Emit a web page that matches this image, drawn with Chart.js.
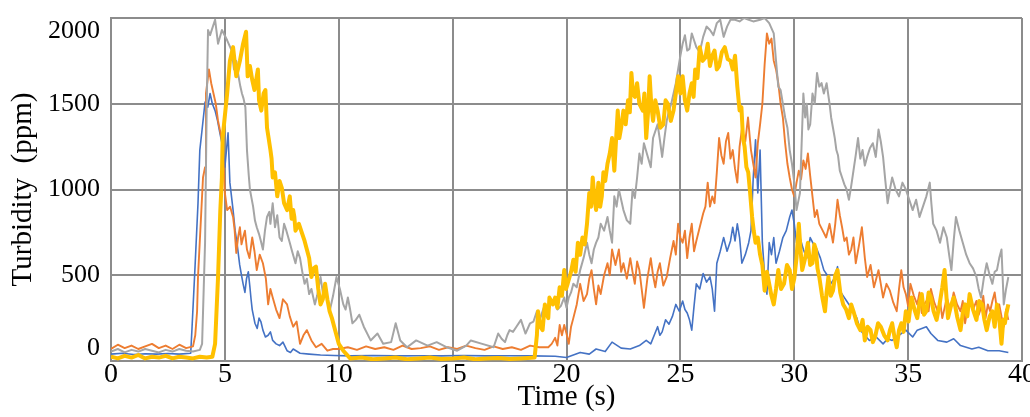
<!DOCTYPE html>
<html lang="en">
<head>
  <meta charset="UTF-8" />
  <title>Turbidity</title>
  <script src="https://cdn.jsdelivr.net/npm/chart.js"></script>
  <style>
    body { margin: 0; background: #fff; }
  </style>
</head>
<body>
<canvas id="turbChart" width="1030" height="417"></canvas>

<script>
  // time (s) and turbidity (ppm), one pair of arrays per run
  const blueT = [0, 0.5, 1, 1.5, 2, 2.5, 3, 3.5,
    3.56, 3.69, 3.82, 3.9, 4.0, 4.13, 4.25, 4.35, 4.45, 4.57, 4.68, 4.78, 4.9,
    5.0, 5.14, 5.22, 5.36, 5.45, 5.53, 5.65, 5.73, 5.8, 5.88,
    5.95, 6.03, 6.1, 6.15, 6.2, 6.26, 6.32, 6.42, 6.5, 6.58,
    6.67, 6.78, 6.9, 7.0, 7.1, 7.25, 7.4, 7.55, 7.73, 7.88, 8.0,
    8.3, 8.7, 9.2, 9.8,
    10.5, 11.5, 12.5, 13.5, 14.5, 15.5, 16.5, 17.5, 18.5, 19.5,
    20.0, 20.3, 20.6, 21.0, 21.3, 21.7, 22.0, 22.4, 22.8, 23.2,
    23.5, 23.7, 24.0, 24.1, 24.2, 24.35, 24.5, 24.65, 24.8, 24.95,
    25.1, 25.2, 25.3, 25.4, 25.5, 25.6, 25.7, 25.85, 26.0, 26.15,
    26.3, 26.4, 26.5, 26.6, 26.75, 26.9, 27.05, 27.2, 27.3, 27.4,
    27.5, 27.6, 27.7, 27.85, 28.0, 28.1, 28.2, 28.3, 28.4, 28.5,
    28.6, 28.7, 28.8, 28.9, 29.0, 29.1, 29.2, 29.35, 29.5, 29.65,
    29.8, 29.9, 30.0, 30.1, 30.25, 30.4, 30.55, 30.7, 30.85, 31.0,
    31.15, 31.3, 31.45, 31.6, 31.75, 31.9, 32.0, 32.15, 32.3, 32.45,
    32.6, 32.75, 32.9, 33.1, 33.3, 33.6, 33.9, 34.1, 34.3, 34.6,
    34.9, 35.2, 35.4, 35.8, 36.0, 36.3, 36.7, 37.0, 37.3, 37.8,
    38.1, 38.5, 39.0, 39.4];
  const blueV = [40, 45, 38, 42, 40, 44, 40, 45,
    200, 550, 920, 1230, 1350, 1510, 1480, 1560, 1500, 1460, 1400, 1330, 1250,
    1130, 1330, 1040, 880, 760, 690, 560, 500, 450, 400,
    480, 520, 430, 360, 300, 260, 220, 190, 250, 230,
    180, 140, 150, 170, 120, 100, 90, 110, 60, 50, 70,
    45, 40, 35, 32,
    30, 32, 30, 31, 30, 32, 30, 31, 30, 28,
    20, 35, 50, 40, 70, 55, 110, 75, 70, 90,
    120, 100, 200, 150, 170, 240, 215, 260, 330, 290,
    350, 300, 280, 240, 180, 320, 450, 420, 510, 460,
    490, 420, 290, 570, 640, 720, 640, 700, 780, 700,
    800, 720, 570, 620, 690, 760, 1070, 1290, 980, 1230,
    690, 500, 390, 690, 620, 720, 570, 640, 720, 760,
    840, 880, 800, 690, 720, 650, 600, 720, 680, 650,
    600, 530, 500, 450, 480, 550, 410, 380, 350, 320,
    290, 250, 180, 150, 120, 140, 100, 130, 120, 150,
    180, 140, 180, 200, 160, 120, 110, 130, 90, 70,
    80, 60, 60, 50];

  const orangeT = [0, 0.3, 0.6, 0.9, 1.2, 1.5, 1.8, 2.1, 2.4, 2.7, 3.0, 3.3, 3.6,
    3.7, 3.78, 3.82, 4.04, 4.13, 4.17, 4.3, 4.4, 4.6, 4.7, 4.9,
    5.0, 5.1, 5.23, 5.36, 5.43, 5.5, 5.58, 5.66, 5.73, 5.8,
    5.88, 5.97, 6.08, 6.2, 6.3, 6.4, 6.53, 6.67, 6.8, 6.9,
    7.0, 7.1, 7.25, 7.4, 7.55, 7.73, 7.85, 8.0, 8.15, 8.3,
    8.45, 8.6, 8.8, 9.0, 9.25, 9.5, 9.75, 10.0, 10.4,
    10.8, 11.2, 11.6, 12.0, 12.4, 12.8, 13.2, 13.6, 14.0, 14.4, 14.8, 15.2, 15.6, 16.0, 16.4, 16.8, 17.2, 17.6, 18.0, 18.4, 18.8,
    19.2, 19.35, 19.5, 19.6, 19.7, 19.8, 19.9, 20.0, 20.1, 20.2,
    20.3, 20.45, 20.6, 20.75, 20.9, 21.0, 21.1, 21.2, 21.3, 21.4,
    21.5, 21.65, 21.8, 21.9, 22.0, 22.15, 22.3, 22.4, 22.5, 22.65,
    22.8, 22.9, 23.0, 23.1, 23.2, 23.3, 23.4, 23.55, 23.7, 23.8,
    23.9, 24.0, 24.1, 24.25, 24.4, 24.55, 24.7, 24.8, 24.9, 25.0,
    25.1, 25.2, 25.3, 25.4, 25.5, 25.6, 25.7, 25.85, 26.0, 26.1,
    26.2, 26.3, 26.4, 26.5, 26.6, 26.7, 26.8, 26.9, 27.0, 27.1,
    27.2, 27.3, 27.4, 27.5, 27.6, 27.7, 27.85, 27.97, 28.05, 28.1,
    28.2, 28.3, 28.4, 28.5, 28.6, 28.7, 28.8, 28.9, 29.0, 29.1,
    29.2, 29.3, 29.4, 29.5, 29.6, 29.7, 29.8, 29.9, 30.0, 30.1,
    30.2, 30.3, 30.4, 30.5, 30.6, 30.7, 30.8, 30.9, 31.0, 31.1,
    31.25, 31.4, 31.55, 31.7, 31.8, 31.9, 32.0, 32.1, 32.2, 32.3,
    32.4, 32.5, 32.6, 32.7, 32.85, 32.97, 33.1, 33.2, 33.35, 33.5,
    33.6, 33.7, 33.8, 33.9, 34.05, 34.2, 34.35, 34.5, 34.6, 34.7,
    34.8, 34.9, 35.0, 35.1, 35.25, 35.4, 35.5, 35.6, 35.7, 35.8,
    35.9, 36.0, 36.15, 36.3, 36.4, 36.5, 36.6, 36.7, 36.85, 37.0,
    37.15, 37.3, 37.4, 37.5, 37.6, 37.7, 37.85, 38.0, 38.1, 38.2,
    38.3, 38.4, 38.5, 38.6, 38.7, 38.8, 38.9, 39.0, 39.1, 39.2,
    39.3, 39.4];
  const orangeV = [70, 95, 75, 90, 70, 85, 100, 75, 90, 70, 95, 75, 85,
    150, 290, 490, 1070, 1130, 1560, 1700, 1620, 1500, 1400, 1270,
    980, 880, 900, 840, 760, 630, 720, 780, 680, 720,
    760, 650, 600, 720, 640, 530, 620, 570, 480, 330,
    420, 370, 300, 250, 360, 330, 260, 200, 230, 100,
    150, 180, 120, 80, 100, 60, 70, 70, 80,
    65, 85, 70, 80, 65, 90, 70, 75, 85, 65, 80, 70, 90, 75, 65, 85, 70, 80, 65, 90, 80,
    80, 100, 135, 90, 210, 150, 210, 160, 100, 200,
    250, 330, 450, 350, 390, 480, 530, 420, 330, 440,
    390, 500, 570, 500, 650, 560, 650, 520, 570, 480,
    600, 520, 450, 580, 530, 420, 310, 480, 600, 500,
    430, 520, 570, 440, 490, 600, 700, 620, 800, 720,
    690, 760, 600, 720, 800, 640, 700, 780, 860, 900,
    1040, 900, 960, 920, 1100, 1300, 1200, 1150, 1280, 1330,
    1180, 1230, 1120, 1040, 1250, 1350, 1280, 1420, 1300, 1230,
    1150, 1070, 1270, 1380, 1500, 1730, 1910, 1850, 1880, 1750,
    1700, 1620, 1500, 1420, 1270, 1150, 1070, 1000, 960, 1040,
    1110, 1060, 1170, 1120, 1210, 1080, 960, 840, 880, 800,
    760, 720, 800, 690, 800, 940, 850, 780, 700, 720,
    620, 650, 720, 570, 680, 780, 600, 490, 560, 430,
    480, 530, 450, 370, 450, 410, 340, 290, 420, 530,
    430, 390, 320, 450, 380, 330, 400, 280, 330, 350,
    290, 420, 340, 290, 350, 250, 310, 370, 300, 400,
    330, 290, 350, 220, 300, 390, 300, 350, 270, 310,
    380, 250, 330, 290, 350, 400, 300, 330, 260, 200,
    300, 240];

  const grayT = [0, 0.3, 0.6, 0.9, 1.2, 1.5, 1.8, 2.1, 2.4, 2.7, 3.0, 3.3, 3.6, 3.9,
    4.0, 4.13, 4.2, 4.26, 4.35, 4.57, 4.7, 4.87, 5.1, 5.3,
    5.4, 5.5, 5.6, 5.68, 5.75, 5.82, 5.9, 5.97, 6.05, 6.1,
    6.17, 6.24, 6.32, 6.4, 6.5, 6.58, 6.67, 6.76, 6.85, 6.95,
    7.0, 7.1, 7.2, 7.3, 7.4, 7.5, 7.6, 7.7, 7.85, 7.95,
    8.1, 8.2, 8.3, 8.4, 8.5, 8.6, 8.7, 8.8, 8.95, 9.05,
    9.2, 9.3, 9.4, 9.5, 9.6, 9.75, 9.9, 10.05, 10.2, 10.3,
    10.4, 10.5, 10.6, 10.75, 10.9, 11.1,
    11.4, 11.7, 11.95, 12.3, 12.5, 12.7, 13.0, 13.4, 13.9, 14.3, 14.75,
    15.2, 15.6, 15.8, 16.3, 16.8,
    17.0, 17.15, 17.3, 17.4, 17.5, 17.65, 17.8, 18.0, 18.2, 18.4,
    18.55, 18.7, 18.85, 19.0, 19.15, 19.3, 19.45, 19.6, 19.75, 19.9,
    20.0, 20.1, 20.2, 20.3, 20.45, 20.6, 20.75, 20.9, 21.0, 21.1,
    21.2, 21.3, 21.4, 21.5, 21.65, 21.8, 21.9, 22.0, 22.1, 22.2,
    22.3, 22.4, 22.5, 22.65, 22.8, 22.9, 23.0, 23.1, 23.2, 23.3,
    23.4, 23.55, 23.7, 23.8, 24.0, 24.1, 24.2, 24.3, 24.4, 24.5,
    24.6, 24.7, 24.8, 24.9, 25.0, 25.1, 25.2, 25.3, 25.4, 25.5,
    25.6, 25.7, 25.85, 26.0, 26.15, 26.3, 26.45, 26.6, 26.75, 26.9,
    27.05, 27.2, 27.4, 27.6, 27.8, 28.0, 28.2, 28.5, 28.7, 28.9,
    29.1, 29.2, 29.3, 29.4, 29.5, 29.6, 29.7, 29.8, 29.9, 30.0,
    30.1, 30.25, 30.4, 30.48, 30.55, 30.62, 30.7, 30.8, 30.9, 31.0,
    31.1, 31.2, 31.3, 31.42, 31.55, 31.62, 31.7, 31.78, 31.85, 31.92,
    32.0, 32.1, 32.2, 32.3, 32.4, 32.5, 32.6, 32.7, 32.8, 32.9,
    33.0, 33.1, 33.2, 33.32, 33.45, 33.58, 33.7, 33.8, 33.9, 34.0,
    34.1, 34.2, 34.3, 34.45, 34.6, 34.75, 34.9, 35.05, 35.2, 35.35,
    35.5, 35.65, 35.8, 35.95, 36.02, 36.1, 36.25, 36.4, 36.55, 36.7,
    36.8, 36.9, 37.0, 37.1, 37.25, 37.4, 37.55, 37.7, 37.85, 38.0,
    38.1, 38.2, 38.32, 38.45, 38.58, 38.7, 38.8, 38.9, 39.0, 39.1,
    39.2, 39.3, 39.4];
  const grayV = [55, 70, 50, 65, 55, 70, 60, 50, 65, 55, 70, 60, 55, 65,
    100, 690, 1460, 1930, 1900, 1990, 1850, 1930, 1870, 1810,
    1700, 1750, 1660, 1600, 1560, 1530, 1480, 1230, 1080, 1000,
    950, 900, 820, 780, 740, 700, 650, 760, 840, 870,
    800, 920, 780, 850, 720, 700, 800, 760, 690, 640,
    570, 640, 600, 520, 450, 480, 390, 420, 330, 380,
    490, 400, 430, 360, 290, 380, 490, 420, 330, 300,
    370, 300, 220, 240, 270, 200,
    120, 160, 100, 110, 220, 120, 80, 120, 90, 110, 80,
    60, 90, 120, 100, 80,
    160, 130, 110, 150, 180, 170, 200, 240, 160, 220,
    230, 290, 250, 310, 270, 330, 360, 300, 320, 370,
    310, 370, 400, 450, 430, 530, 600, 690, 620, 570,
    650, 690, 720, 800, 760, 840, 760, 690, 960, 900,
    1000, 940, 880, 820, 800, 1000, 950, 1070, 1210, 1150,
    1270, 1200, 1130, 1300, 1380, 1290, 1190, 1300, 1400, 1460,
    1500, 1560, 1620, 1700, 1780, 1850, 1900, 1810, 1820, 1910,
    1870, 1830, 1800, 1890, 1950, 1930, 1900, 1970, 1990, 1890,
    1950, 1990, 1990, 1980, 2000, 1990, 1980, 1990, 2000, 1970,
    1910, 1750, 1600, 1580, 1500, 1420, 1360, 1230, 1150, 1040,
    880, 980, 1560, 1420, 1500, 1350, 1380, 1560, 1500, 1680,
    1600, 1620, 1560, 1620, 1500, 1420, 1360, 1300, 1230, 1200,
    1110, 1070, 1030, 1000, 940, 1020, 1110, 1200, 1300, 1180,
    1230, 1140, 1190, 1240, 1270, 1190, 1350, 1280, 1190, 1050,
    920, 1000, 1070, 1000, 960, 1040, 1000, 940, 880, 940,
    840, 900, 960, 1040, 920, 800, 760, 690, 780, 720,
    620, 530, 700, 840, 760, 690, 620, 570, 540, 490,
    420, 370, 480, 570, 500, 450, 520, 530, 600, 650,
    330, 420, 490];

  const yellowT = [0, 0.3, 0.6, 0.9, 1.2, 1.5, 1.8, 2.1, 2.4, 2.7, 3.0, 3.3, 3.6, 3.9, 4.2, 4.45,
    4.57, 4.7, 4.8, 4.87, 4.9, 5.1, 5.22, 5.36, 5.5, 5.66, 5.8, 5.93,
    6.0, 6.1, 6.2, 6.3, 6.4, 6.45, 6.5, 6.6, 6.7, 6.78,
    6.85, 6.92, 7.0, 7.05, 7.1, 7.2, 7.3, 7.4, 7.5, 7.6,
    7.73, 7.85, 7.93, 8.0, 8.05, 8.1, 8.25, 8.4, 8.5, 8.6,
    8.7, 8.8, 8.9, 9.0, 9.1, 9.2, 9.3, 9.4, 9.5, 9.6,
    9.7, 9.8, 10.0, 10.2, 10.5,
    11, 11.5, 12, 12.5, 13, 13.5, 14, 14.5, 15, 15.5, 16, 16.5, 17, 17.5, 18,
    18.6, 18.7, 18.75, 18.85, 18.95, 19.05, 19.1, 19.2, 19.25, 19.4,
    19.5, 19.6, 19.7, 19.8, 19.9, 19.98, 20.05, 20.2, 20.3, 20.4,
    20.5, 20.6, 20.7, 20.8, 20.9, 21.0, 21.08, 21.15, 21.22, 21.3,
    21.4, 21.48, 21.55, 21.62, 21.7, 21.8, 21.9, 22.0, 22.1, 22.18,
    22.25, 22.32, 22.4, 22.5, 22.6, 22.7, 22.78, 22.85, 22.92, 23.0,
    23.1, 23.2, 23.35, 23.42, 23.5, 23.58, 23.65, 23.72, 23.8, 23.9,
    24.0, 24.12, 24.25, 24.35, 24.45, 24.58, 24.7, 24.8, 24.9, 25.0,
    25.1, 25.2, 25.3, 25.4, 25.5, 25.58, 25.65, 25.75, 25.85, 25.98,
    26.1, 26.2, 26.3, 26.4, 26.5, 26.6, 26.7, 26.82, 26.95, 27.08,
    27.2, 27.3, 27.4, 27.5, 27.6, 27.68, 27.75, 27.82, 27.9, 27.98,
    28.05, 28.15, 28.22, 28.3, 28.4, 28.5, 28.6, 28.7, 28.8, 28.9,
    29.0, 29.1, 29.2, 29.3, 29.42, 29.55, 29.68, 29.8, 29.9, 30.0,
    30.1, 30.2, 30.28, 30.35, 30.48, 30.6, 30.7, 30.8, 30.88, 30.95,
    31.02, 31.1, 31.22, 31.35, 31.42, 31.5, 31.6, 31.7, 31.8, 31.9,
    32.02, 32.15, 32.28, 32.4, 32.5, 32.6, 32.75, 32.9, 33.0, 33.1,
    33.22, 33.35, 33.45, 33.55, 33.68, 33.8, 33.95, 34.1, 34.2, 34.3,
    34.4, 34.5, 34.6, 34.7, 34.8, 34.9, 35.02, 35.15, 35.28, 35.4,
    35.5, 35.6, 35.7, 35.8, 35.9, 36.0, 36.12, 36.25, 36.38, 36.5,
    36.6, 36.75, 36.88, 37.0, 37.15, 37.3, 37.4, 37.5, 37.6, 37.7,
    37.85, 38.0, 38.12, 38.25, 38.35, 38.45, 38.58, 38.7, 38.8, 38.9,
    39.0, 39.1, 39.18, 39.25, 39.32, 39.4];
  const yellowV = [25, 15, 30, 20, 35, 15, 25, 20, 30, 15, 25, 20, 15, 25, 20, 25,
    100, 490, 880, 1070, 1300, 1560, 1750, 1830, 1660, 1750, 1850, 1920,
    1660, 1720, 1640, 1580, 1660, 1700, 1520, 1460, 1560, 1580,
    1360, 1300, 1230, 1180, 1070, 1100, 960, 1050, 1010, 920,
    880, 960, 830, 880, 840, 760, 800, 740, 700, 650,
    600, 490, 540, 550, 420, 330, 360, 450, 360, 290,
    250, 200, 100, 60, 15,
    20, 10, 15, 20, 10, 15, 20, 12, 15, 20, 10, 15, 18, 12, 15,
    20, 150, 290, 200, 180, 330, 290, 250, 370, 330,
    370, 310, 430, 380, 530, 420, 450, 520, 590, 520,
    690, 620, 720, 680, 800, 980, 900, 1070, 960, 880,
    1040, 900, 960, 1100, 1050, 1150, 1210, 1300, 1110, 1300,
    1460, 1300, 1360, 1460, 1380, 1520, 1450, 1680, 1560, 1540,
    1620, 1500, 1460, 1560, 1300, 1450, 1660, 1500, 1400, 1520,
    1460, 1360, 1380, 1520, 1500, 1400, 1460, 1560, 1660, 1560,
    1660, 1520, 1460, 1560, 1620, 1540, 1700, 1650, 1830, 1750,
    1770, 1850, 1720, 1780, 1810, 1700, 1720, 1800, 1830, 1760,
    1750, 1700, 1780, 1600, 1460, 1480, 1300, 1250, 1130, 1100,
    1000, 840, 760, 690, 720, 620, 560, 410, 520, 450,
    380, 330, 420, 530, 420, 450, 560, 530, 420, 480,
    600, 800, 640, 530, 600, 690, 560, 570, 680, 650,
    540, 490, 380, 290, 400, 490, 380, 410, 500, 530,
    400, 330, 300, 250, 330, 290, 220, 180, 240, 120,
    200, 180, 110, 140, 220, 200, 150, 120, 180, 220,
    140, 80, 180, 220, 170, 290, 230, 370, 300, 250,
    340, 390, 270, 290, 400, 370, 290, 240, 330, 430,
    530, 250, 320, 370, 260, 180, 280, 330, 260, 390,
    300, 240, 350, 330, 240, 180, 260, 290, 200, 330,
    250, 100, 240, 220, 280, 330];

  const xTicks = { min: 0, max: 40, step: 5 };
  const yTicks = { min: 0, max: 2000, step: 500 };

  const serif = 'Liberation Serif';
  const gridGray = '#8c8c8c';

  // zip a time array and a value array into {x, y} points
  const pts = (ts, vs) => ts.map((t, i) => ({ x: t, y: vs[i] }));

  new Chart(document.getElementById('turbChart'), {
    type: 'line',
    data: {
      datasets: [
        { data: pts(blueT, blueV), borderColor: '#4472C4', borderWidth: 1.6, order: 3 },
        { data: pts(orangeT, orangeV), borderColor: '#ED7D31', borderWidth: 1.9, order: 2 },
        { data: pts(grayT, grayV), borderColor: '#A5A5A5', borderWidth: 2, order: 1 },
        { data: pts(yellowT, yellowV), borderColor: '#FFC000', borderWidth: 4, order: 0 }
      ]
    },
    options: {
      responsive: false,
      animation: false,
      elements: { point: { radius: 0 }, line: { tension: 0, borderJoinStyle: 'round' } },
      layout: { padding: { top: 18, right: 8, bottom: 0, left: 0 } },
      plugins: { legend: { display: false }, tooltip: { enabled: false } },
      scales: {
        x: {
          type: 'linear',
          min: xTicks.min,
          max: xTicks.max,
          afterFit: s => { s.height = 56; s.paddingLeft = 0; s.paddingRight = 0; },
          ticks: {
            stepSize: xTicks.step,
            padding: 0,
            color: '#000',
            maxRotation: 0,
            font: { family: serif, size: 28, lineHeight: 1 }
          },
          grid: { color: gridGray, lineWidth: 2, drawTicks: false },
          border: { color: gridGray, width: 2 },
          title: {
            display: true,
            text: 'Time (s)',
            color: '#000',
            padding: { top: 0, bottom: 2 },
            font: { family: serif, size: 29 }
          }
        },
        y: {
          min: yTicks.min,
          max: yTicks.max,
          afterFit: s => { s.width = 111; s.paddingTop = 0; s.paddingBottom = 0; },
          ticks: {
            stepSize: yTicks.step,
            padding: 11,
            color: '#000',
            font: { family: serif, size: 26, lineHeight: 1 },
            // end labels sit a little inside the plot box, as in the original
            callback: v => v === yTicks.min ? [String(v), ''] : v === yTicks.max ? ['', String(v)] : String(v)
          },
          grid: { color: gridGray, lineWidth: 2, drawTicks: false },
          border: { color: gridGray, width: 2 },
          title: {
            display: true,
            text: 'Turbidity  (ppm)',
            color: '#000',
            padding: { top: 6, bottom: 0 },
            font: { family: serif, size: 29 }
          }
        }
      }
    }
  });
</script>
</body>
</html>
